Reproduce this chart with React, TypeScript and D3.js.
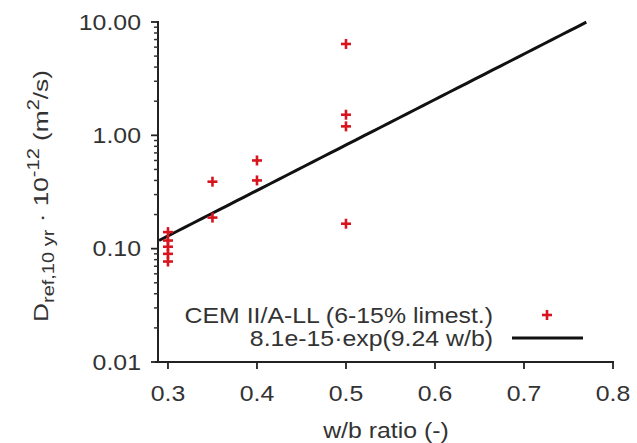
import React from "react";
import * as d3 from "d3";

const wbValues = [0.3, 0.3, 0.3, 0.3, 0.3, 0.35, 0.35, 0.4, 0.4, 0.5, 0.5, 0.5, 0.5];
const dValues = [0.14, 0.118, 0.104, 0.09, 0.077, 0.39, 0.188, 0.6, 0.4, 6.4, 1.52, 1.2, 0.166];
const yTicks = [0.01, 0.1, 1, 10];
const yTickLabels = ["0.01", "0.10", "1.00", "10.00"];
const xTicks = [0.3, 0.4, 0.5, 0.6, 0.7, 0.8];
const fitA = 8.1e-15;
const fitB = 9.24;
const fitRange = [0.29, 0.77];
const legendLabels = ["CEM II/A-LL (6-15% limest.)", "8.1e-15\u00b7exp(9.24 w/b)"];

const W = 637;
const H = 443;
const left = 158;
const right = 613;
const top = 22;
const bottom = 362;
const font = "'Liberation Sans', Arial, Helvetica, sans-serif";
const red = "#d8141e";
const SX = 1.13;

function SText(props: {
  x: number;
  y: number;
  anchor: string;
  size: number;
  children: React.ReactNode;
}) {
  return (
    <text
      transform={`translate(${props.x},${props.y}) scale(${SX},1)`}
      dy="0.35em"
      textAnchor={props.anchor}
      fontSize={props.size}
      fill="#333"
    >
      {props.children}
    </text>
  );
}

export default function App() {
  const x = d3.scaleLinear().domain([0.2888, 0.8]).range([left, right]);
  const y = d3.scaleLog().domain([0.01, 10]).range([bottom, top]);

  const fitPts = d3.range(0, 51).map((i) => {
    const wb = fitRange[0] + ((fitRange[1] - fitRange[0]) * i) / 50;
    return [wb, (fitA * Math.exp(fitB * wb)) / 1e-12] as [number, number];
  });
  const line = d3
    .line<[number, number]>()
    .x((d) => x(d[0]))
    .y((d) => y(d[1]));

  const minor: number[] = [];
  for (let e = -2; e < 1; e++) {
    for (let k = 2; k <= 9; k++) minor.push(k * Math.pow(10, e));
  }

  const plus = (cx: number, cy: number, key: string | number) => (
    <g key={key} stroke={red} strokeWidth={2.6}>
      <line x1={cx - 5} x2={cx + 5} y1={cy} y2={cy} />
      <line x1={cx} x2={cx} y1={cy - 5} y2={cy + 5} />
    </g>
  );

  return (
    <svg
      width={W}
      height={H}
      style={{ position: "absolute", left: 0, top: 0, background: "#fff" }}
      fontFamily={font}
    >
      {/* axes */}
      <line x1={left} x2={left} y1={top - 1} y2={bottom} stroke="#222" strokeWidth={2} />
      <line x1={left - 3} x2={right + 1} y1={bottom} y2={bottom} stroke="#222" strokeWidth={2} />
      {yTicks.map((t, i) => (
        <g key={"yt" + i}>
          <line x1={left - 7} x2={left} y1={y(t)} y2={y(t)} stroke="#222" strokeWidth={1.8} />
          <SText x={left - 17} y={y(t)} anchor="end" size={22}>
            {yTickLabels[i]}
          </SText>
        </g>
      ))}
      {minor.map((t, i) => (
        <line key={"m" + i} x1={left - 4} x2={left} y1={y(t)} y2={y(t)} stroke="#333" strokeWidth={1.5} />
      ))}
      {xTicks.map((t, i) => (
        <g key={"xt" + i}>
          <line x1={x(t)} x2={x(t)} y1={bottom} y2={bottom + 7} stroke="#222" strokeWidth={1.8} />
          <SText x={x(t)} y={bottom + 31} anchor="middle" size={22}>
            {t.toFixed(1)}
          </SText>
        </g>
      ))}
      <SText x={386} y={430} anchor="middle" size={22}>
        w/b ratio (-)
      </SText>
      <text
        transform={`translate(48,196) rotate(-90)`}
        textAnchor="middle"
        fontSize={21}
        fill="#333"
        textLength={252}
        lengthAdjust="spacingAndGlyphs"
      >
        D
        <tspan fontSize={16} dy={6}>ref,10 yr</tspan>
        <tspan dy={-6}> {"\u00b7"} 10</tspan>
        <tspan fontSize={16} dy={-9}>-12</tspan>
        <tspan dy={9}> (m</tspan>
        <tspan fontSize={16} dy={-9}>2</tspan>
        <tspan dy={9}>/s)</tspan>
      </text>

      {/* fit line */}
      <path d={line(fitPts) || ""} fill="none" stroke="#111" strokeWidth={3} />

      {/* points */}
      {wbValues.map((wb, i) => plus(x(wb), y(dValues[i]), i))}

      {/* legend */}
      <SText x={493} y={315} anchor="end" size={22}>
        {legendLabels[0]}
      </SText>
      <SText x={493} y={338} anchor="end" size={22}>
        {legendLabels[1]}
      </SText>
      {plus(547, 315, "leg")}
      <line x1={512} x2={583} y1={338} y2={338} stroke="#111" strokeWidth={3} />
    </svg>
  );
}
